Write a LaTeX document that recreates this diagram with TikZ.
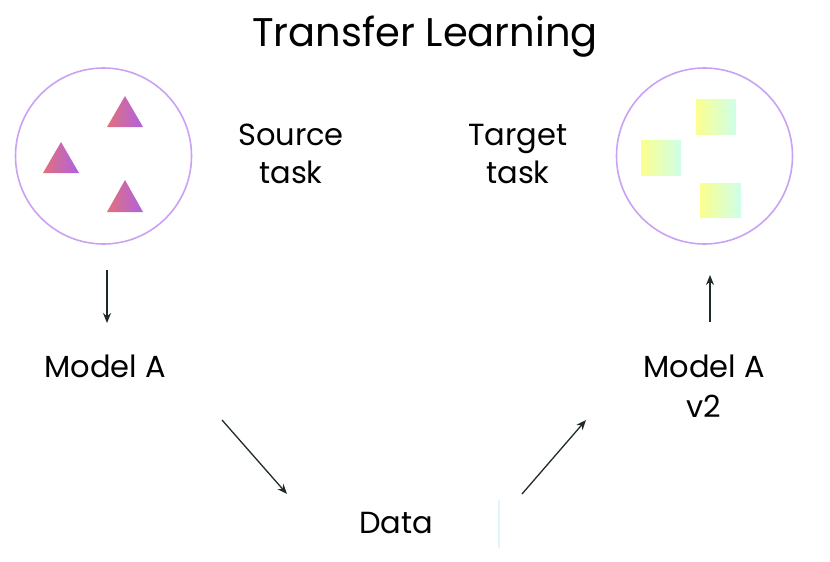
\documentclass[tikz,border=0pt]{standalone}
\usepackage{fontspec}
\setmainfont{Poppins}
\usetikzlibrary{arrows.meta}
\definecolor{ringc}{HTML}{C9A2F4}
\definecolor{arrc}{HTML}{1F2B2B}
\definecolor{triL}{HTML}{E2707C}
\definecolor{triR}{HTML}{AE62E2}
\definecolor{sqL}{HTML}{FBFF8E}
\definecolor{sqR}{HTML}{CEFFEA}
\definecolor{tick}{HTML}{DDF6FA}
\tikzset{
  ring/.style={draw=ringc, line width=1.6pt},
  lbl/.style={font=\fontsize{30.5}{38}\selectfont, align=center, text=black, inner sep=0pt},
  flow/.style={draw=arrc, line width=1.3pt, -{Stealth[length=10pt,width=8pt]}},
  tri/.style={left color=triL, right color=triR},
  sq/.style={left color=sqL, right color=sqR}
}
\begin{document}
\begin{tikzpicture}[x=1pt,y=-1pt]
\useasboundingbox (0,0) rectangle (830,562);
% title
\node[font=\fontsize{40}{44}\selectfont, inner sep=0pt] (title) at (425,37) {Transfer Learning};
% left circle
\node[ring, circle, minimum size=176pt, inner sep=0pt] (src) at (103.5,156) {};
\shade[tri] (107,127) -- (125,96) -- (143,127) -- cycle;
\shade[tri] (43,173) -- (61,142) -- (79,173) -- cycle;
\shade[tri] (107,212) -- (125,180) -- (143,212) -- cycle;
% right circle
\node[ring, circle, minimum size=176pt, inner sep=0pt] (tgt) at (704.5,156) {};
\shade[sq] (696,99) rectangle (736,134);
\shade[sq] (641,140) rectangle (681,175);
\shade[sq] (700,183) rectangle (741,217);
% labels
\node[lbl] (srct) at (291,154) {Source\\task};
\node[lbl] (tgtt) at (518,154) {Target\\task};
\node[lbl] (ma) at (105,366) {Model A};
\node[lbl, font=\fontsize{30.5}{40}\selectfont] (mv) at (704,386) {Model A\\v2};
\node[lbl] (data) at (396,523) {Data};
% arrows
\coordinate (a1s) at (107,270); \coordinate (a1e) at (107,323);
\draw[flow] (a1s) -- (a1e);
\coordinate (a2s) at (710,322); \coordinate (a2e) at (710,275);
\draw[flow] (a2s) -- (a2e);
\coordinate (a3s) at (222,420); \coordinate (a3e) at (287,494);
\draw[flow] (a3s) -- (a3e);
\coordinate (a4s) at (522,494); \coordinate (a4e) at (586,420);
\draw[flow] (a4s) -- (a4e);
\coordinate (t1) at (499,500); \coordinate (t2) at (499,548);
\draw[tick, line width=1.2pt] (t1) -- (t2);
\end{tikzpicture}
\end{document}
